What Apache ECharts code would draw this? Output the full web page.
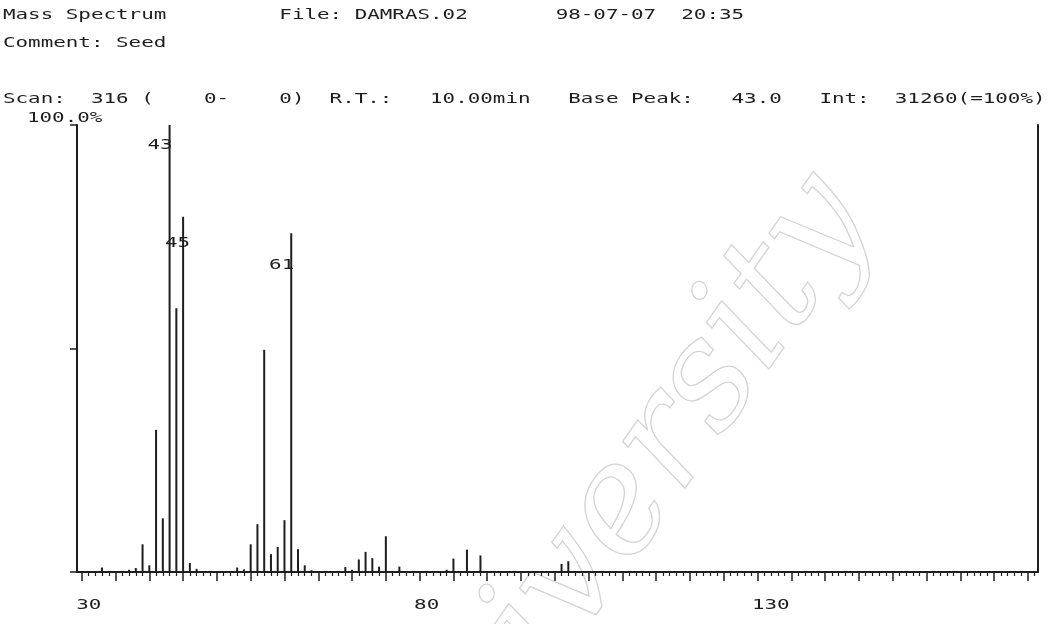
<!DOCTYPE html>
<html>
<head>
<meta charset="utf-8">
<script src="https://cdn.jsdelivr.net/npm/echarts@6/dist/echarts.min.js"></script>
<style>
  html, body { margin: 0; padding: 0; background: #fff; }
  #chart { width: 1054px; height: 624px; }
</style>
</head>
<body>
<div id="chart"></div>
<script>
// m/z values and relative intensities (% of base peak) of the spectrum
const massValues   = [33, 37, 38, 39, 40, 41, 42, 43, 44, 45, 46, 47,
                      53, 54, 55, 56, 57, 58, 59, 60, 61, 62, 63, 64,
                      69, 70, 71, 72, 73, 74, 75, 77, 84, 85, 87, 89, 101, 102];
const relIntensity = [1.0, 0.5, 0.9, 6.2, 1.5, 31.8, 12.0, 100, 59.0, 79.5, 2.0, 0.7,
                      1.0, 0.6, 6.2, 10.7, 49.7, 4.0, 5.6, 11.6, 75.8, 5.1, 1.5, 0.4,
                      1.1, 0.5, 2.8, 4.5, 3.1, 1.2, 8.0, 1.2, 0.5, 3.0, 5.0, 3.7, 1.8, 2.4];
// peaks that carry their m/z as a label
const labelledPeaks = [43, 45, 61];
// x axis tick labels
const xTickLabels = [30, 80, 130];
// instrument header text (printed lines, split into fields)
const titleFields = ['Mass Spectrum', 'File: DAMRAS.02', '98-07-07  20:35'];
const commentFields = ['Comment: Seed'];
const scanFields = ['Scan:', '316', '(', '0-', '0)', 'R.T.:', '10.00min', 'Base Peak:', '43.0', 'Int:', '31260(=100%)'];
const yTopLabel = '100.0%';

// ---- layout / styling ----
const X_MIN = 29.3, X_MAX = 171.5;
const INK = '#1e1e1e';
const PRINT_FONT = '14px "DejaVu Sans Mono", "Liberation Mono", monospace';
const PRINT_SCALE = 1.49;            // wide printer characters
const COL = 8.43 * PRINT_SCALE;      // printer column pitch in px
const LEFT_MARGIN = 3;
// printer columns where each field starts
const titleCols = [0, 22, 44];
const commentCols = [0];
const scanCols = [0, 7, 11, 16, 22, 26, 34, 45, 58, 65, 71];
const ROW_Y = [15, 43, 99];
const labelOffsets = { 43: [3, 20], 45: [7, 27], 61: [3, 32] };

const majorTicks = [];
const minorTicks = [];
for (let m = 30; m <= 171; m++) {
  if (m % 5 === 0) majorTicks.push(m); else minorTicks.push(m);
}

const chart = echarts.init(document.getElementById('chart'), null, { renderer: 'canvas' });

const option = {
  animation: false,
  backgroundColor: '#ffffff',
  grid: { left: 77, right: 16, top: 125, bottom: 52, containLabel: false },
  xAxis: [
    {
      type: 'value', min: X_MIN, max: X_MAX, position: 'bottom',
      axisLine: { show: true, lineStyle: { color: INK, width: 2 } },
      axisTick: { show: true, customValues: majorTicks, length: 9, lineStyle: { color: INK, width: 1.5 } },
      axisLabel: { show: false },
      splitLine: { show: false }
    },
    {
      type: 'value', min: X_MIN, max: X_MAX, position: 'bottom',
      axisLine: { show: false },
      axisTick: { show: true, customValues: minorTicks, length: 4, lineStyle: { color: INK, width: 1.2 } },
      axisLabel: { show: false },
      splitLine: { show: false }
    }
  ],
  yAxis: [
    {
      type: 'value', min: 0, max: 100, interval: 50, position: 'left',
      axisLine: { show: true, lineStyle: { color: INK, width: 2 } },
      axisTick: { show: true, length: 7, lineStyle: { color: INK, width: 1.5 } },
      axisLabel: { show: false },
      splitLine: { show: false }
    },
    {
      type: 'value', min: 0, max: 100, position: 'right',
      axisLine: { show: true, lineStyle: { color: INK, width: 2 } },
      axisTick: { show: false },
      axisLabel: { show: false },
      splitLine: { show: false }
    }
  ],
  series: [{
    type: 'bar',
    xAxisIndex: 0,
    yAxisIndex: 0,
    barWidth: 2,
    itemStyle: { color: INK },
    data: massValues.map((m, i) => [m, relIntensity[i]])
  }]
};
chart.setOption(option);

// printed text elements (header, axis labels, peak labels), placed through the chart's scales
function printText(text, x, y, align) {
  return {
    type: 'text', x: x, y: y, scaleX: PRINT_SCALE, silent: true, z: 10,
    style: { text: text, font: PRINT_FONT, fill: INK, textAlign: align || 'left', textVerticalAlign: 'middle' }
  };
}

const elements = [];

// faint library watermark
elements.push({
  type: 'text', x: 905, y: 238, rotation: Math.PI * 0.305, silent: true, z: 0,
  style: {
    text: 'University', font: 'italic 150px "DejaVu Serif", serif',
    fill: 'rgba(0,0,0,0)', stroke: '#d4d4d4', lineWidth: 1.3, textAlign: 'right', textVerticalAlign: 'bottom'
  }
});

[[titleFields, titleCols], [commentFields, commentCols], [scanFields, scanCols]].forEach((row, r) => {
  row[0].forEach((t, i) => elements.push(printText(t, LEFT_MARGIN + row[1][i] * COL, ROW_Y[r])));
});
elements.push(printText(yTopLabel, 27, 118));

xTickLabels.forEach(v => {
  const p = chart.convertToPixel({ gridIndex: 0 }, [v, 0]);
  elements.push(printText(String(v), p[0] + 7 - COL, p[1] + 33));
});

labelledPeaks.forEach(m => {
  const i = massValues.indexOf(m);
  const p = chart.convertToPixel({ gridIndex: 0 }, [m, relIntensity[i]]);
  const off = labelOffsets[m];
  elements.push(printText(String(m), p[0] + off[0] - 2 * COL, p[1] + off[1]));
});

chart.setOption({ graphic: { elements: elements } });
</script>
</body>
</html>
